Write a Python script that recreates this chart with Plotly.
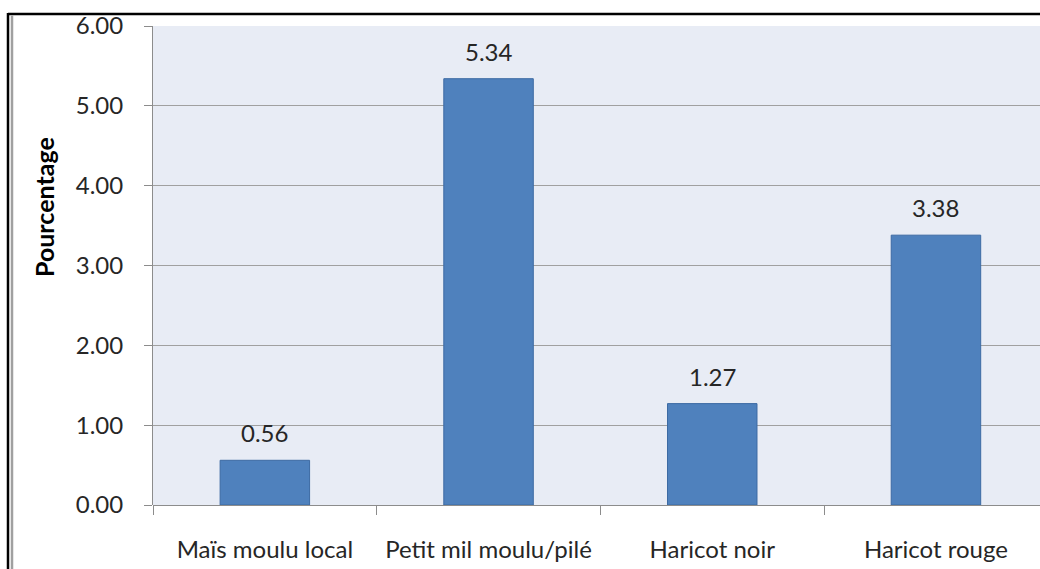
import plotly.graph_objects as go

categories = ["Maïs moulu local", "Petit mil moulu/pilé", "Haricot noir", "Haricot rouge"]
values = [0.56, 5.34, 1.27, 3.38]
value_labels = ["0.56", "5.34", "1.27", "3.38"]
y_tick_values = [0, 1, 2, 3, 4, 5, 6]
y_tick_labels = ["0.00", "1.00", "2.00", "3.00", "4.00", "5.00", "6.00"]
y_title = "Pourcentage"

W, H = 1040, 569
L, R, T, B = 153, 0, 26, 64
pw, ph = W - L - R, H - T - B

def px_x(p):
    return (p - L) / pw

def px_y(p):
    return (H - B - p) / ph

FONT = "Lato, 'Noto Sans', sans-serif"

fig = go.Figure()
fig.add_trace(go.Bar(
    x=categories, y=values, width=0.40,
    marker=dict(color="#4F81BD", line=dict(color="#3C6AA3", width=1)),
))

for c, v, t in zip(categories, values, value_labels):
    fig.add_annotation(x=c, y=v, text=t, showarrow=False, yanchor="bottom", yshift=11,
                       font=dict(family=FONT, size=24, color="#262626"))

fig.add_annotation(xref="paper", yref="paper", x=px_x(44), y=px_y(207), text="<b>" + y_title + "</b>",
                   textangle=-90, showarrow=False, xanchor="center", yanchor="middle",
                   font=dict(family=FONT, size=25, color="#000000"))

cat_w = 223.7
x_max = -0.5 + pw / cat_w

fig.update_layout(
    width=W, height=H,
    margin=dict(l=L, r=R, t=T, b=B, pad=0),
    paper_bgcolor="white", plot_bgcolor="#E8ECF5",
    showlegend=False,
    font=dict(family=FONT, color="#262626"),
    xaxis=dict(
        type="category", range=[-0.5, x_max], automargin=False, tickangle=0,
        tickson="boundaries", ticks="outside", ticklen=9, tickcolor="#8C8C8C", tickwidth=1,
        showline=False, showgrid=False,
        tickfont=dict(family=FONT, size=24, color="#262626"),
        ticklabelstandoff=28,
    ),
    yaxis=dict(
        range=[0, 6], tickvals=y_tick_values, ticktext=y_tick_labels, automargin=False,
        ticks="outside", ticklen=8, tickcolor="#8C8C8C", tickwidth=1,
        showline=True, linecolor="#8C8C8C", linewidth=1,
        showgrid=True, gridcolor="#A0A0A0", gridwidth=1,
        zeroline=True, zerolinecolor="#8C8C8C", zerolinewidth=1,
        tickfont=dict(family=FONT, size=24, color="#262626"),
        ticklabelstandoff=16,
    ),
    shapes=[
        dict(type="line", xref="paper", yref="paper", x0=px_x(8), x1=px_x(1045), y0=px_y(14), y1=px_y(14),
             line=dict(color="black", width=2.5)),
        dict(type="line", xref="paper", yref="paper", x0=px_x(8), x1=px_x(8), y0=px_y(13), y1=px_y(575),
             line=dict(color="black", width=2.5)),
        dict(type="line", xref="paper", yref="paper", x0=px_x(12), x1=px_x(12), y0=px_y(15.5), y1=px_y(575),
             line=dict(color="#A0A0A0", width=2.5)),
    ],
)

fig.write_html("out.html", config={"displayModeBar": False},
               post_script="document.body.style.margin='0';document.body.style.overflow='hidden';")
